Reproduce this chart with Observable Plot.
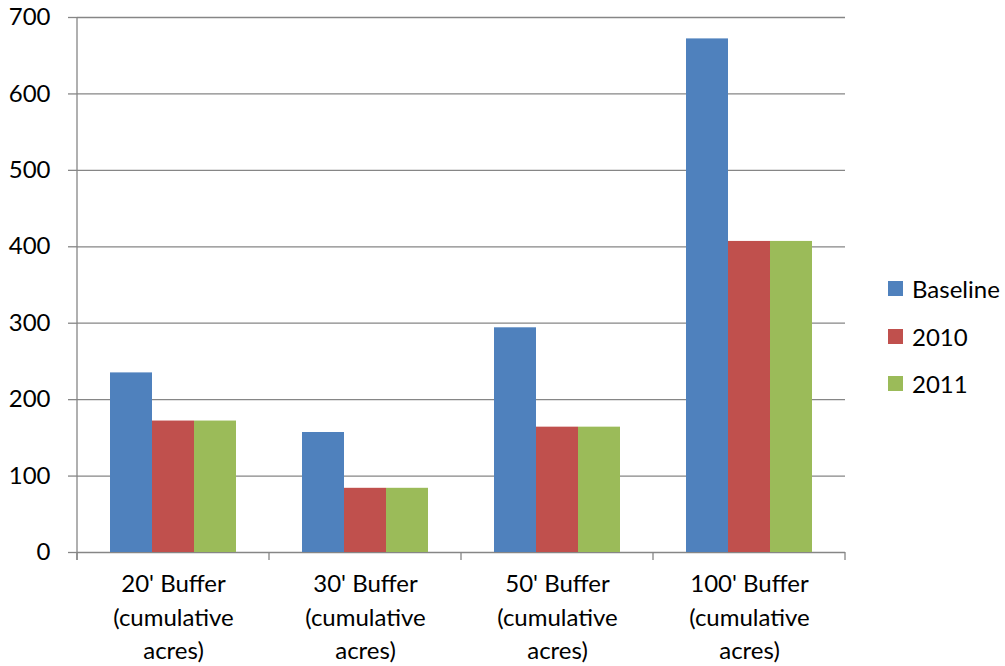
<!DOCTYPE html>
<html><head><meta charset="utf-8">
<script src="https://cdn.jsdelivr.net/npm/d3@7"></script>
<script src="https://cdn.jsdelivr.net/npm/@observablehq/plot@0.6"></script>
<style>
body{margin:0;background:#fff;}
#wrap{position:relative;width:1005px;height:666px;font-family:Lato,sans-serif;}
#legend{position:absolute;left:888px;top:265px;}
#legend .lg-swatch{padding-bottom:0 !important;height:47.5px;font-size:24px;font-family:Lato,sans-serif;color:#000;}
#legend .lg-swatch svg{margin-right:9px !important;}
</style></head><body><div id="wrap"></div>
<script>
const categories = ["20' Buffer (cumulative acres)", "30' Buffer (cumulative acres)", "50' Buffer (cumulative acres)", "100' Buffer (cumulative acres)"];
const categoryLabels = ["20' Buffer\n(cumulative\nacres)", "30' Buffer\n(cumulative\nacres)", "50' Buffer\n(cumulative\nacres)", "100' Buffer\n(cumulative\nacres)"];
const series = ["Baseline", "2010", "2011"];
const baselineValues = [235, 157, 294, 672];
const values2010 = [172, 84, 164, 407];
const values2011 = [172, 84, 164, 407];
const colors = ["#4F81BD", "#C0504D", "#9BBB59"];
const yTicks = [0, 100, 200, 300, 400, 500, 600, 700];

const seriesValues = [baselineValues, values2010, values2011];
const data = categories.flatMap((c, i) => series.map((s, j) => ({cat: c, series: s, value: seriesValues[j][i]})));

const gray = "#868686";
const chart = Plot.plot({
  width: 1005, height: 666,
  marginLeft: 76, marginRight: 160, marginTop: 17, marginBottom: 114,
  style: {fontFamily: "Lato, sans-serif", fontSize: "24px", color: "#000", background: "transparent"},
  fx: {domain: categories, padding: 0, label: null},
  x: {domain: series, paddingInner: 0, paddingOuter: 0.745, axis: null},
  y: {domain: [0, 700], label: null},
  color: {domain: series, range: colors},
  marks: [
    Plot.gridY(yTicks, {stroke: gray, strokeOpacity: 1, strokeWidth: 1.3}),
    Plot.axisY(yTicks, {tickSize: 9, stroke: gray, strokeWidth: 1.3, tickPadding: 18, fontSize: 24, label: null}),
    Plot.barY(data, {fx: "cat", x: "series", y: "value", fill: "series"}),
    Plot.axisFx({anchor: "bottom", tickSize: 0, tickPadding: 16, fontSize: 24, lineHeight: 1.39, label: null,
      tickFormat: d => categoryLabels[categories.indexOf(d)]})
  ]
});
document.getElementById("wrap").appendChild(chart);

// axis line and category boundary ticks from the library's scales
try {
  const fx = chart.scale("fx"), y = chart.scale("y");
  const svg = d3.select(chart);
  const g = svg.append("g").attr("stroke", gray).attr("stroke-width", 1.3);
  const y0 = y.apply(0), yTop = y.apply(700);
  const xs = categories.map(c => fx.apply(c));
  xs.push(fx.apply(categories[categories.length - 1]) + fx.bandwidth);
  g.append("line").attr("x1", xs[0]).attr("x2", xs[0]).attr("y1", yTop).attr("y2", y0 + 8);
  xs.forEach(x => g.append("line").attr("x1", x).attr("x2", x).attr("y1", y0).attr("y2", y0 + 8));
} catch (e) { console.error(e); }

const legend = Plot.legend({color: {domain: series, range: colors}, legend: "swatches", columns: 1, swatchSize: 15, className: "lg"});
const lw = document.createElement("div");
lw.id = "legend";
lw.appendChild(legend);
document.getElementById("wrap").appendChild(lw);
</script></body></html>
